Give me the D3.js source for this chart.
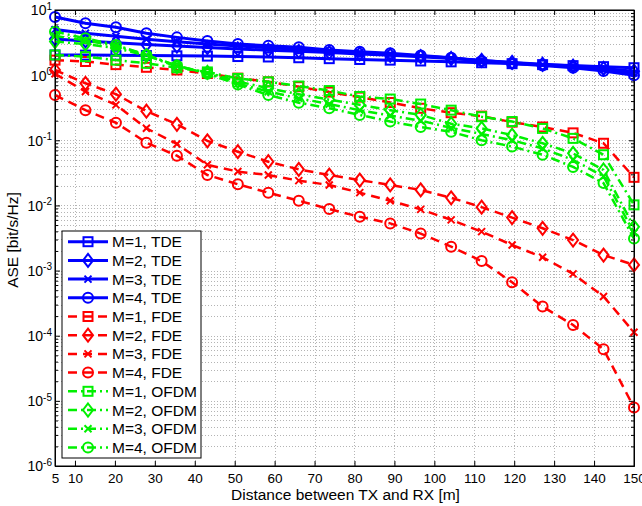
<!DOCTYPE html>
<html>
<head>
<meta charset="utf-8">
<script src="https://cdn.jsdelivr.net/npm/d3@7"></script>
<style>
  body { margin: 0; background: #fff; }
  svg { font-family: "Liberation Sans", Arial, sans-serif; }
</style>
</head>
<body>
<svg id="chart" width="642" height="506"></svg>
<script>
// distance between TX and RX [m]
const distance = [5, 12.63, 20.26, 27.89, 35.53, 43.16, 50.79, 58.42, 66.05, 73.68,
                  81.32, 88.95, 96.58, 104.21, 111.84, 119.47, 127.11, 134.74, 142.37, 150];

const tdeM1 = [2.04, 2.03, 2.02, 2.0, 1.98, 1.96, 1.93, 1.9, 1.85, 1.79, 1.74, 1.7, 1.65, 1.6, 1.55, 1.5, 1.45, 1.4, 1.35, 1.3];
const tdeM2 = [3.6, 3.35, 3.15, 2.95, 2.8, 2.65, 2.52, 2.42, 2.32, 2.22, 2.12, 2.02, 1.92, 1.8, 1.68, 1.57, 1.47, 1.38, 1.27, 1.15];
const tdeM3 = [5.0, 4.4, 3.95, 3.55, 3.25, 3.0, 2.8, 2.64, 2.5, 2.35, 2.22, 2.1, 1.97, 1.83, 1.68, 1.55, 1.44, 1.34, 1.22, 1.08];
const tdeM4 = [7.8, 6.24, 5.42, 4.39, 3.8, 3.34, 3.0, 2.83, 2.67, 2.43, 2.29, 2.16, 2.0, 1.85, 1.65, 1.51, 1.4, 1.3, 1.16, 1.0];

const fdeM1 = [1.7, 1.62, 1.45, 1.32, 1.2, 1.06, 0.9, 0.79, 0.665, 0.55, 0.46, 0.38, 0.31, 0.265, 0.235, 0.19, 0.16, 0.13, 0.09, 0.027];
const fdeM2 = [1.2, 0.75, 0.51, 0.28, 0.176, 0.098, 0.0668, 0.0469, 0.0358, 0.0293, 0.0245, 0.0206, 0.0173, 0.0131, 0.0094, 0.0065, 0.00446, 0.00294, 0.00173, 0.00122];
const fdeM3 = [1.05, 0.56, 0.35, 0.153, 0.0877, 0.042, 0.0331, 0.0293, 0.024, 0.0206, 0.0157, 0.0118, 0.0087, 0.006, 0.00396, 0.00247, 0.0016, 0.00089, 0.0004, 0.000113];
const fdeM4 = [0.495, 0.29, 0.186, 0.092, 0.058, 0.0293, 0.0211, 0.0157, 0.0118, 0.0088, 0.0067, 0.0053, 0.0037, 0.00233, 0.0014, 0.00066, 0.00028, 0.000146, 0.000062, 0.0000079];

const ofdmM1 = [2.04, 1.92, 1.7, 1.52, 1.3, 1.12, 0.89, 0.79, 0.68, 0.58, 0.47, 0.43, 0.36, 0.29, 0.23, 0.194, 0.152, 0.107, 0.06, 0.0102];
const ofdmM2 = [3.27, 3.0, 2.6, 2.0, 1.35, 1.1, 0.8, 0.63, 0.51, 0.42, 0.35, 0.29, 0.245, 0.18, 0.152, 0.12, 0.09, 0.063, 0.035, 0.0047];
const ofdmM3 = [4.0, 3.4, 2.8, 2.05, 1.38, 1.08, 0.74, 0.56, 0.44, 0.36, 0.29, 0.24, 0.2, 0.155, 0.125, 0.1, 0.075, 0.05, 0.028, 0.0038];
const ofdmM4 = [4.65, 3.67, 2.9, 2.04, 1.4, 1.05, 0.72, 0.495, 0.378, 0.31, 0.245, 0.194, 0.16, 0.135, 0.1, 0.08, 0.06, 0.039, 0.022, 0.0031];

const xTicks = [5, 10, 20, 30, 40, 50, 60, 70, 80, 90, 100, 110, 120, 130, 140, 150];
const yDecades = [-6, -5, -4, -3, -2, -1, 0, 1];

const blue = '#0000ff', red = '#ff0000', green = '#00f000';
const solid = null, dashed = '9,6', dashDot = '9,4,2,4';

const series = [
  {label: 'M=1, TDE', values: tdeM1, color: blue, dash: solid, marker: 'square'},
  {label: 'M=2, TDE', values: tdeM2, color: blue, dash: solid, marker: 'diamond'},
  {label: 'M=3, TDE', values: tdeM3, color: blue, dash: solid, marker: 'cross'},
  {label: 'M=4, TDE', values: tdeM4, color: blue, dash: solid, marker: 'circle'},
  {label: 'M=1, FDE', values: fdeM1, color: red, dash: dashed, marker: 'square'},
  {label: 'M=2, FDE', values: fdeM2, color: red, dash: dashed, marker: 'diamond'},
  {label: 'M=3, FDE', values: fdeM3, color: red, dash: dashed, marker: 'cross'},
  {label: 'M=4, FDE', values: fdeM4, color: red, dash: dashed, marker: 'circle'},
  {label: 'M=1, OFDM', values: ofdmM1, color: green, dash: dashDot, marker: 'square'},
  {label: 'M=2, OFDM', values: ofdmM2, color: green, dash: dashDot, marker: 'diamond'},
  {label: 'M=3, OFDM', values: ofdmM3, color: green, dash: dashDot, marker: 'cross'},
  {label: 'M=4, OFDM', values: ofdmM4, color: green, dash: dashDot, marker: 'circle'},
];

const margin = {top: 10, right: 8, bottom: 40, left: 55};
const width = 642, height = 506;
const svg = d3.select('#chart');

const x = d3.scaleLinear().domain([5, 150]).range([margin.left, width - margin.right]);
const y = d3.scaleLog().domain([1e-6, 10]).range([height - margin.bottom, margin.top]);

const majorY = yDecades.map(e => Math.pow(10, e));
const minorY = [];
yDecades.slice(0, -1).forEach(function(e){
  for (let k = 2; k <= 9; k++) minorY.push(k * Math.pow(10, e));
});

// grid
const grid = svg.append('g')
  .attr('stroke', '#b4b4b4')
  .attr('stroke-width', 1)
  .attr('stroke-dasharray', '1,2');

grid.selectAll('line.gy')
  .data(majorY.concat(minorY).filter(v => v > 1e-6 && v < 10))
  .join('line')
  .attr('class', 'gy')
  .attr('x1', x(5)).attr('x2', x(150))
  .attr('y1', d => Math.round(y(d)) + 0.5).attr('y2', d => Math.round(y(d)) + 0.5);

grid.selectAll('line.gx')
  .data(xTicks.filter(v => v > 5 && v < 150))
  .join('line')
  .attr('class', 'gx')
  .attr('y1', y(10)).attr('y2', y(1e-6))
  .attr('x1', d => Math.round(x(d)) + 0.5).attr('x2', d => Math.round(x(d)) + 0.5);

// axes
const bottom = svg.append('g')
  .attr('transform', `translate(0,${y(1e-6)})`)
  .call(d3.axisBottom(x).tickValues(xTicks).tickFormat(d3.format('d')).tickSizeInner(-5).tickSizeOuter(0).tickPadding(7));

svg.append('g')
  .attr('transform', `translate(0,${y(10)})`)
  .call(d3.axisTop(x).tickValues(xTicks).tickFormat('').tickSizeInner(-5).tickSizeOuter(0));

const left = svg.append('g')
  .attr('transform', `translate(${x(5)},0)`)
  .call(d3.axisLeft(y).tickValues(majorY).tickSizeInner(-5).tickSizeOuter(0).tickPadding(3).tickFormat(''));

svg.append('g')
  .attr('transform', `translate(${x(5)},0)`)
  .call(d3.axisLeft(y).tickValues(minorY).tickSizeInner(-3).tickSizeOuter(0).tickFormat(''));

svg.append('g')
  .attr('transform', `translate(${x(150)},0)`)
  .call(d3.axisRight(y).tickValues(majorY).tickSizeInner(-5).tickSizeOuter(0).tickFormat(''));

svg.append('g')
  .attr('transform', `translate(${x(150)},0)`)
  .call(d3.axisRight(y).tickValues(minorY).tickSizeInner(-3).tickSizeOuter(0).tickFormat(''));

svg.selectAll('.domain').attr('stroke', '#000');
svg.selectAll('.tick line').attr('stroke', '#000');
bottom.selectAll('text').attr('font-size', 13.5).attr('fill', '#000');

// y labels as 10^n
left.selectAll('.tick text').each(function(d){
  const t = d3.select(this)
    .attr('fill', '#000')
    .attr('font-size', 14)
    .attr('text-anchor', 'end')
    .attr('dy', '0.35em');
  t.append('tspan').text('10');
  t.append('tspan')
    .attr('dy', '-0.55em')
    .attr('font-size', 10)
    .text(Math.round(Math.log10(d)));
});

// curves
const line = d3.line()
  .x((d, i) => x(distance[i]))
  .y(d => y(d));

function drawMarker(g, type, color){
  g.attr('fill', 'none').attr('stroke', color).attr('stroke-width', 2);
  if (type == 'square') {
    g.append('rect').attr('x', -4.5).attr('y', -4.5).attr('width', 9).attr('height', 9);
  } else if (type == 'diamond') {
    g.append('path').attr('d', 'M0,-6.5L5,0L0,6.5L-5,0Z');
  } else if (type == 'circle') {
    g.append('circle').attr('r', 5);
  } else {
    g.append('path').attr('d', 'M-3.5,-3.5L3.5,3.5M-3.5,3.5L3.5,-3.5');
  }
}

const plot = svg.append('g');
series.forEach(function(s){
  plot.append('path')
    .datum(s.values)
    .attr('d', line)
    .attr('fill', 'none')
    .attr('stroke', s.color)
    .attr('stroke-width', s.dash ? 2.5 : 3)
    .attr('stroke-dasharray', s.dash);

  s.values.forEach(function(v, i){
    const g = plot.append('g').attr('transform', `translate(${x(distance[i])},${y(v)})`);
    drawMarker(g, s.marker, s.color);
  });
});

// box on top
svg.append('rect')
  .attr('x', x(5)).attr('y', y(10))
  .attr('width', x(150) - x(5)).attr('height', y(1e-6) - y(10))
  .attr('fill', 'none').attr('stroke', '#000').attr('stroke-width', 1);

// axis labels
svg.append('text')
  .attr('x', (x(5) + x(150)) / 2 + 1)
  .attr('y', 500)
  .attr('text-anchor', 'middle')
  .attr('font-size', 15.5)
  .text('Distance between TX and RX [m]');

svg.append('text')
  .attr('transform', `translate(18,${(y(10) + y(1e-6)) / 2 + 2}) rotate(-90)`)
  .attr('text-anchor', 'middle')
  .attr('font-size', 15.5)
  .text('ASE [bit/s/Hz]');

// legend
const legend = svg.append('g').attr('transform', 'translate(62,231)');
legend.append('rect')
  .attr('width', 139).attr('height', 227)
  .attr('fill', '#fff').attr('stroke', '#000').attr('stroke-width', 1);

series.forEach(function(s, i){
  const row = legend.append('g').attr('transform', `translate(0,${10.7 + i * 18.7})`);
  row.append('line')
    .attr('x1', 6).attr('x2', 46)
    .attr('stroke', s.color).attr('stroke-width', s.dash ? 2.5 : 3)
    .attr('stroke-dasharray', s.dash);
  drawMarker(row.append('g').attr('transform', 'translate(26,0)'), s.marker, s.color);
  row.append('text')
    .attr('x', 50).attr('dy', '0.36em')
    .attr('font-size', 15.5)
    .text(s.label);
});
</script>
</body>
</html>
